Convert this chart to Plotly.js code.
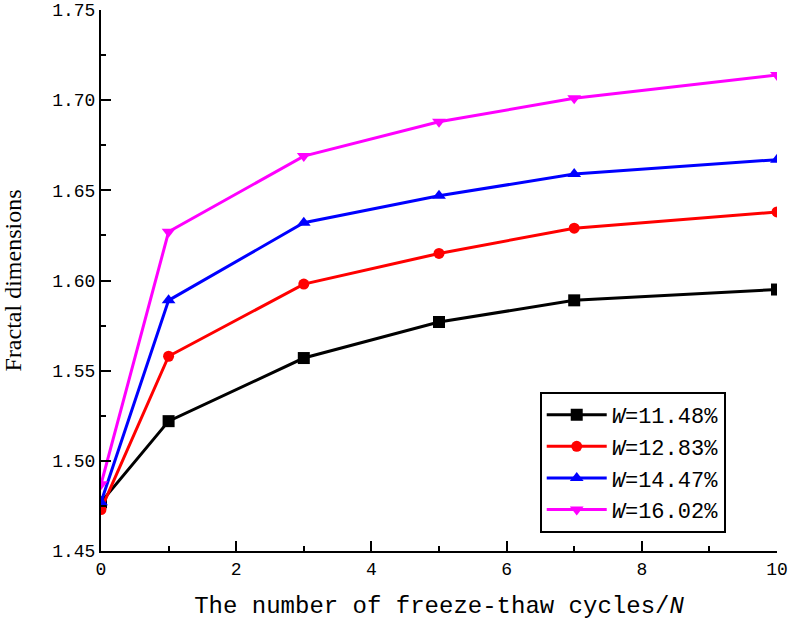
<!DOCTYPE html>
<html><head><meta charset="utf-8">
<script src="https://cdn.plot.ly/plotly-3.0.1.min.js"></script>
<style>body{margin:0;background:#fff}#chart{width:788px;height:625px}</style>
</head><body><div id="chart"></div>
<script>
const cycles = [0, 1, 3, 5, 7, 10];
const seriesNames = ['<i>W</i>=11.48%', '<i>W</i>=12.83%', '<i>W</i>=14.47%', '<i>W</i>=16.02%'];
const w1148 = [1.477, 1.522, 1.557, 1.577, 1.589, 1.595];
const w1283 = [1.473, 1.558, 1.598, 1.615, 1.629, 1.638];
const w1447 = [1.477, 1.589, 1.632, 1.647, 1.659, 1.667];
const w1602 = [1.487, 1.627, 1.669, 1.688, 1.701, 1.714];
const colors = ['#000000', '#ff0000', '#0000ff', '#ff00ff'];
const symbols = ['square', 'circle', 'triangle-up', 'triangle-down'];
const allY = [w1148, w1283, w1447, w1602];

const traces = allY.map((y, i) => ({
  x: cycles, y: y, type: 'scatter', mode: 'lines+markers', name: seriesNames[i],
  line: {color: colors[i], width: 3},
  marker: {symbol: symbols[i], color: colors[i], size: i === 1 ? 11 : 12}
}));

const mono = 'Liberation Mono, monospace';
const layout = {
  width: 788, height: 625,
  paper_bgcolor: '#fff', plot_bgcolor: '#fff',
  margin: {l: 101, r: 11, t: 10, b: 74},
  showlegend: true,
  legend: {
    x: 0.649, y: 0.294, xanchor: 'left', yanchor: 'top',
    bordercolor: '#000', borderwidth: 2, bgcolor: '#fff',
    font: {family: mono, size: 22, color: '#000'},
    tracegroupgap: 0, itemwidth: 60
  },
  xaxis: {
    range: [0, 10], dtick: 2, tick0: 0,
    showline: true, linecolor: '#000', linewidth: 2,
    ticks: 'inside', ticklen: 10, tickwidth: 2, tickcolor: '#000',
    minor: {dtick: 1, ticks: 'inside', ticklen: 5, tickwidth: 2, tickcolor: '#000', showgrid: false},
    showgrid: false, zeroline: false,
    tickfont: {family: mono, size: 18, color: '#000'},
    title: {text: 'The number of freeze-thaw cycles/<i>N</i>', font: {family: mono, size: 24, color: '#000'}, standoff: 18}
  },
  yaxis: {
    range: [1.45, 1.75], dtick: 0.05, tick0: 1.45, tickformat: '.2f',
    showline: true, linecolor: '#000', linewidth: 2,
    ticks: 'inside', ticklen: 10, tickwidth: 2, tickcolor: '#000',
    minor: {dtick: 0.025, ticks: 'inside', ticklen: 5, tickwidth: 2, tickcolor: '#000', showgrid: false},
    showgrid: false, zeroline: false,
    tickfont: {family: mono, size: 18, color: '#000'},
    title: {text: 'Fractal dimensions', font: {family: 'Liberation Serif, serif', size: 24, color: '#000'}, standoff: 28}
  }
};
Plotly.newPlot('chart', traces, layout, {displayModeBar: false, staticPlot: true});
</script>
</body></html>
